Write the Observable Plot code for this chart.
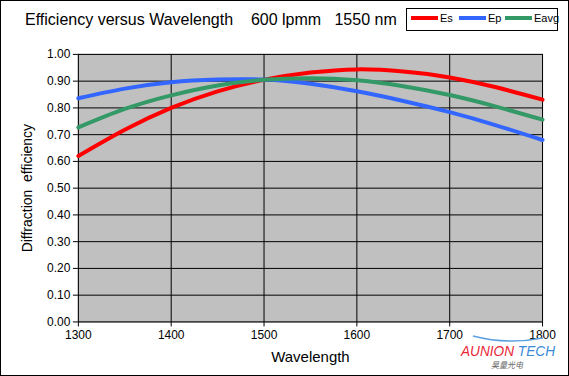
<!DOCTYPE html>
<html><head><meta charset="utf-8">
<script src="https://cdn.jsdelivr.net/npm/d3@7"></script>
<script src="https://cdn.jsdelivr.net/npm/@observablehq/plot@0.6"></script>
<style>
html,body{margin:0;padding:0;background:#fff;}
#wrap{position:relative;width:567px;height:374px;border:1px solid #000;overflow:hidden;font-family:"Liberation Sans",Arial,sans-serif;}
#chart{position:absolute;left:-1px;top:-1px;}
#title{position:absolute;left:24px;top:10px;font-size:16px;color:#000;white-space:pre;}
#legend{position:absolute;left:405px;top:7px;width:150px;height:21px;border:1px solid #000;background:#fff;font-size:11px;}
.li{position:absolute;top:3px;display:flex;align-items:center;}
.li span.sw{display:inline-block;width:27px;height:4px;margin-right:2px;}
#wm{position:absolute;left:454px;top:330px;}
</style></head>
<body>
<div id="wrap">
<div id="chart"></div>
<div id="title">Efficiency versus Wavelength    600 lpmm   1550 nm</div>
<div id="legend"></div>
<svg id="wm" width="110" height="42">
<path d="M18,5 Q52,14 88,7" fill="none" stroke="#5aa0e0" stroke-width="1.5"/>
<text x="6" y="25" font-family="Liberation Sans, Arial" font-style="italic" font-size="14" fill="#e8283a" textLength="94" lengthAdjust="spacingAndGlyphs">AUNION <tspan fill="#3a8ad8">TECH</tspan></text>
<text x="36" y="37" font-family="Noto Sans CJK SC" font-size="8" fill="#666" font-style="italic">昊量光电</text>
</svg>
</div>
<script>
const wavelengths = [1300,1350,1400,1450,1500,1550,1600,1650,1700,1750,1800];
const es   = [0.620,0.718,0.800,0.862,0.905,0.932,0.944,0.936,0.914,0.877,0.831];
const ep   = [0.836,0.872,0.896,0.906,0.906,0.890,0.862,0.826,0.784,0.735,0.680];
const eavg = [0.727,0.796,0.847,0.884,0.905,0.911,0.903,0.881,0.848,0.805,0.756];
const seriesNames = ["Es","Ep","Eavg"];
const seriesColors = ["#ff0000","#3366ff","#339966"];
const yTicks = [0,0.1,0.2,0.3,0.4,0.5,0.6,0.7,0.8,0.9,1.0];
const xTicks = [1300,1400,1500,1600,1700,1800];

const values = [es, ep, eavg];
const data = [];
seriesNames.forEach((s,i)=>wavelengths.forEach((w,j)=>data.push({series:s, wl:w, eff:values[i][j]})));

const chart = Plot.plot({
  width: 569, height: 376,
  marginLeft: 78, marginRight: 26, marginTop: 54, marginBottom: 54,
  style: {fontFamily: "Liberation Sans, Arial, sans-serif", fontSize: "12px", color: "#000", background: "transparent"},
  x: {domain: [1300,1800]},
  y: {domain: [0,1]},
  color: {domain: seriesNames, range: seriesColors},
  marks: [
    Plot.frame({fill: "#c0c0c0", stroke: "#808080"}),
    Plot.ruleY(yTicks, {stroke: "#000", strokeWidth: 1}),
    Plot.ruleX(xTicks, {stroke: "#000", strokeWidth: 1}),
    Plot.line(data, {x: "wl", y: "eff", z: "series", stroke: "series", strokeWidth: 4, curve: "natural"}),
    Plot.axisX({ticks: xTicks, tickSize: 5, tickPadding: 4, tickFormat: d=>String(d), label: null, fontSize: 12}),
    Plot.axisY({ticks: yTicks, tickSize: 5, tickPadding: 3, tickFormat: d3.format(".2f"), label: null, fontSize: 12}),
    Plot.axisX({ticks: [], label: "Wavelength", labelAnchor: "center", labelArrow: "none", labelOffset: 40, fontSize: 15}),
    Plot.axisY({ticks: [], label: "Diffraction  efficiency", labelAnchor: "center", labelArrow: "none", labelOffset: 56, fontSize: 14, style: {whiteSpace: "pre"}})
  ]
});
document.getElementById("chart").appendChild(chart);

const leg = document.getElementById("legend");
const lx = [4, 52, 98];
seriesNames.forEach((s,i)=>{
  const d = document.createElement("div");
  d.className = "li"; d.style.left = lx[i]+"px";
  d.innerHTML = `<span class="sw" style="background:${seriesColors[i]}"></span><span>${s}</span>`;
  leg.appendChild(d);
});
</script>
</body></html>
